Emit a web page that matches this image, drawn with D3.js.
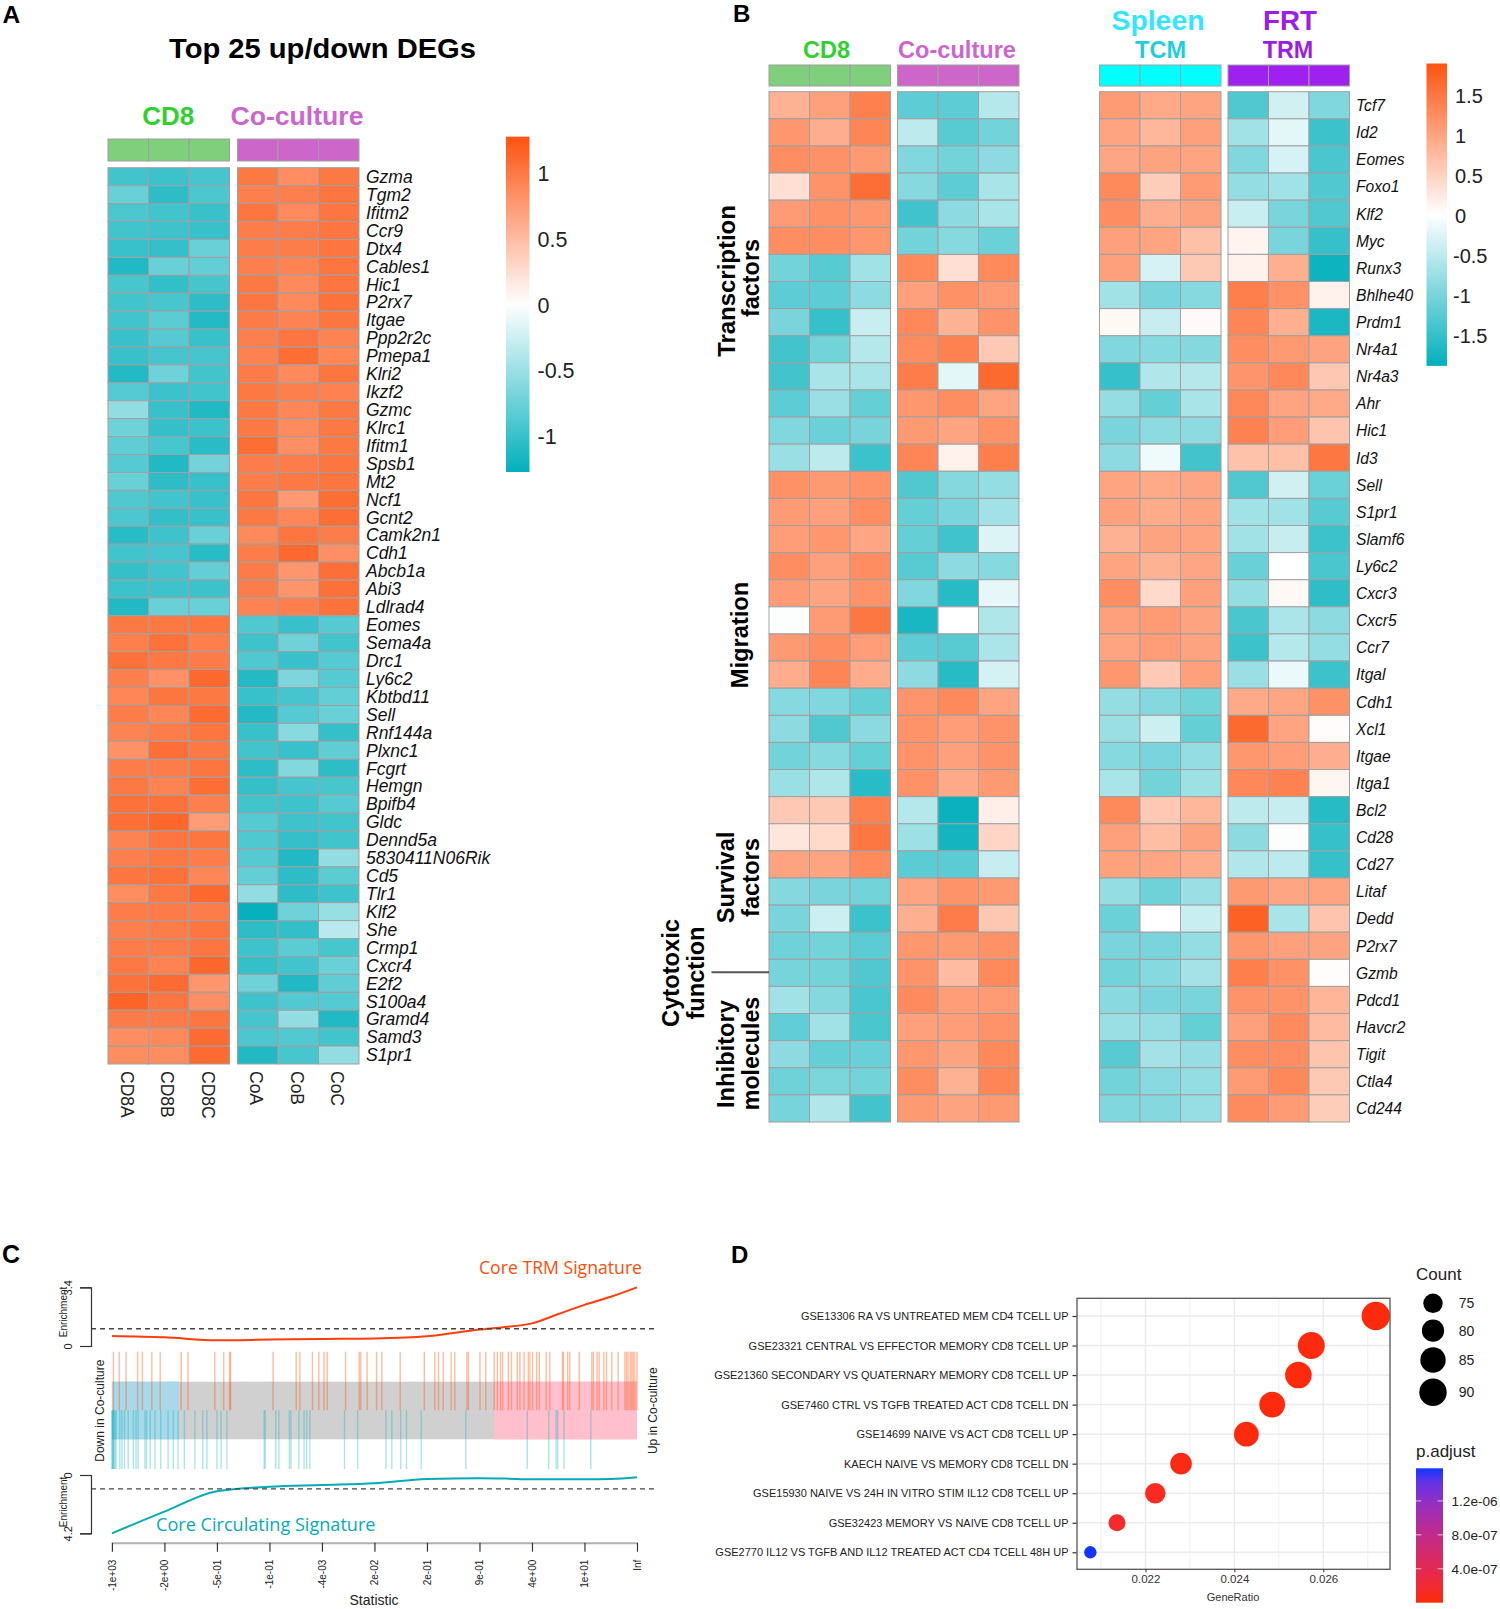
<!DOCTYPE html>
<html><head><meta charset="utf-8">
<script src="https://cdn.jsdelivr.net/npm/d3@7"></script>
<style>html,body{margin:0;padding:0;background:#fff}svg{display:block}text{font-family:"Liberation Sans",Arial,sans-serif}</style>
</head><body><svg id="c" width="1500" height="1609"></svg>
<script>
// ---------- Panel A data ----------
const genesA=["Gzma","Tgm2","Ifitm2","Ccr9","Dtx4","Cables1","Hic1","P2rx7","Itgae","Ppp2r2c","Pmepa1","Klri2","Ikzf2","Gzmc","Klrc1","Ifitm1","Spsb1","Mt2","Ncf1","Gcnt2","Camk2n1","Cdh1","Abcb1a","Abi3","Ldlrad4","Eomes","Sema4a","Drc1","Ly6c2","Kbtbd11","Sell","Rnf144a","Plxnc1","Fcgrt","Hemgn","Bpifb4","Gldc","Dennd5a","5830411N06Rik","Cd5","Tlr1","Klf2","She","Crmp1","Cxcr4","E2f2","S100a4","Gramd4","Samd3","S1pr1"];
const samplesA=["CD8A","CD8B","CD8C","CoA","CoB","CoC"];
const valuesA=[
[-.95,-.98,-.93,1.0,.84,1.0],[-.75,-1.05,-.9,.95,.95,1.02],[-.9,-.95,-1.0,1.03,.87,1.02],[-.95,-.97,-1.0,.97,.97,1.02],[-1.0,-1.02,-.75,.97,.97,1.02],
[-1.12,-.75,-.78,.95,.92,1.03],[-.92,-1.03,-.93,1.0,.88,1.02],[-.95,-.92,-1.05,1.02,.88,1.05],[-.95,-.82,-1.1,.98,.92,1.03],[-1.0,-.85,-1.0,.95,1.02,.92],
[-1.0,-.93,-.93,.93,1.08,.9],[-1.1,-.72,-.95,.98,.88,1.03],[-.85,-.98,-.95,1.0,.95,.93],[-.55,-1.0,-1.12,1.0,.9,1.0],[-.72,-1.02,-.98,1.0,.86,1.0],
[-.8,-.92,-1.07,1.08,.83,1.0],[-.85,-1.12,-.7,.97,.97,1.03],[-.75,-1.05,-1.0,.97,1.0,1.03],[-.88,-.95,-1.0,1.03,.76,1.08],[-.9,-1.03,-1.0,1.0,.9,1.08],
[-1.08,-.97,-.75,.88,1.03,.97],[-.95,-.93,-1.08,.97,1.12,.83],[-1.02,-.95,-.78,.98,.78,1.07],[-.98,-.97,-.98,.97,.8,1.06],[-1.12,-.75,-.75,.92,.95,1.05],
[1.0,1.0,1.03,-.88,-1.0,-.85],[.96,1.05,.96,-.97,-.72,-.95],[1.05,1.0,.98,-.88,-1.0,-.85],[.95,.82,1.12,-1.1,-.65,-.85],[.9,1.03,1.0,-1.0,-.93,-.78],
[.97,.9,1.1,-1.1,-.85,-.75],[.92,.97,1.03,-1.0,-.6,-1.02],[.82,1.07,1.0,-.95,-1.0,-.8],[.97,.97,1.03,-1.05,-.62,-1.05],[1.0,.92,1.08,-1.02,-.93,-.92],
[1.05,1.05,.95,-.95,-.97,-.85],[1.07,1.13,.74,-.85,-.97,-.95],[.92,1.02,1.03,-.88,-1.02,-.95],[.95,1.0,.97,-.85,-1.12,-.55],[1.03,1.05,.9,-.78,-1.05,-.82],
[.85,1.0,1.12,-.55,-1.05,-.97],[.97,.98,.97,-1.25,-.72,-.52],[.95,.97,1.03,-1.05,-1.03,-.35],[.97,.97,1.02,-.97,-.82,-.92],[1.0,.92,1.13,-1.02,-.95,-.75],
[1.05,1.1,.78,-.72,-1.12,-.8],[1.15,1.02,.83,-.97,-.87,-.85],[.98,.98,1.03,-.93,-.55,-1.12],[.84,.88,1.1,-.9,-.87,-.95],[.85,.85,1.1,-1.12,-.92,-.55]];
const legendTicksA=[1,.5,0,-.5,-1];
// ---------- Panel B data ----------
const genesB=["Tcf7","Id2","Eomes","Foxo1","Klf2","Myc","Runx3","Bhlhe40","Prdm1","Nr4a1","Nr4a3","Ahr","Hic1","Id3","Sell","S1pr1","Slamf6","Ly6c2","Cxcr3","Cxcr5","Ccr7","Itgal","Cdh1","Xcl1","Itgae","Itga1","Bcl2","Cd28","Cd27","Litaf","Dedd","P2rx7","Gzmb","Pdcd1","Havcr2","Tigit","Ctla4","Cd244"];
const valuesB=[
[.85,1.05,1.4,-1.2,-1.2,-.55,1.1,.95,1.0,-1.3,-.35,-.95],
[1.15,.9,1.35,-.5,-1.25,-1.05,1.0,.8,1.05,-.7,-.2,-1.45],
[1.25,1.22,1.12,-.95,-1.05,-.85,.98,1.02,1.0,-.95,-.3,-1.35],
[.35,1.2,1.6,-.9,-1.2,-.65,1.3,.55,1.1,-.8,-.7,-1.3],
[1.1,1.22,1.15,-1.42,-.85,-.65,1.25,.9,1.02,-.4,-1.0,-1.3],
[1.25,1.25,1.15,-1.05,-.9,-1.1,1.05,1.0,.7,.12,-1.0,-1.5],
[-1.05,-1.25,-.7,1.3,.35,1.3,1.05,-.3,.6,.15,.88,-1.8],
[-1.2,-1.2,-.85,1.05,1.22,1.1,-.7,-1.0,-.9,1.42,1.22,.14],
[-1.0,-1.5,-.4,1.32,.85,1.2,.07,-.42,.05,1.35,.88,-1.7],
[-1.4,-1.05,-.55,1.27,1.38,.6,-.95,-.9,-.92,1.25,1.12,1.02],
[-1.4,-.65,-.65,1.45,-.2,1.65,-1.5,-.58,-.55,1.18,1.32,.62],
[-1.2,-.75,-1.15,1.15,1.25,1.0,-.8,-1.15,-.65,1.32,1.0,.95],
[-.95,-1.1,-1.02,1.12,1.0,1.22,-1.0,-.85,-.85,1.38,1.08,.65],
[-.75,-.5,-1.45,1.35,.15,1.42,-.85,-.12,-1.4,.68,.7,1.5],
[1.22,1.12,1.2,-1.3,-.92,-.8,1.0,.95,.98,-1.3,-.35,-1.1],
[1.1,1.05,1.25,-1.15,-1.0,-.7,1.05,.93,1.0,-.7,-.7,-1.25],
[1.08,1.15,.98,-1.15,-1.42,-.25,.85,1.02,1.0,-.7,-.42,-1.45],
[1.25,1.05,1.25,-1.25,-.85,-.9,1.0,.85,.98,-1.12,0,-1.35],
[1.1,1.0,1.2,-.95,-1.62,-.18,1.25,.42,1.05,-.8,.08,-1.55],
[-.02,1.1,1.5,-1.72,0,-.6,1.05,1.1,1.02,-1.35,-.62,-.85],
[1.12,1.25,1.08,-1.2,-1.25,-.62,1.0,1.08,1.02,-1.45,-.55,-.8],
[.92,1.35,.92,-.85,-1.62,-.32,1.15,.58,1.05,-.75,-.15,-1.45],
[-.9,-.95,-1.15,1.18,1.3,1.0,-.8,-.92,-1.05,.95,.98,1.22],
[-.85,-1.3,-.87,1.2,1.08,1.2,-.75,-.38,-1.15,1.65,1.0,.03],
[-1.05,-.9,-1.15,1.2,1.05,1.2,-.9,-1.0,-.8,1.15,1.08,.9],
[-.75,-.6,-1.6,1.22,.95,1.12,-.65,-1.05,-.72,1.32,1.38,.1],
[.6,.6,1.4,-.55,-1.82,.18,1.3,.6,.8,-.5,-.42,-1.62],
[.28,.42,1.5,-.72,-1.75,.45,1.05,.72,1.02,-.85,-.02,-1.5],
[1.02,1.0,1.28,-1.22,-1.22,-.42,1.03,.98,.92,-.58,-.5,-1.5],
[-.92,-1.0,-1.05,1.0,1.2,1.12,-.8,-1.08,-.75,1.12,.98,1.0],
[-1.0,-.38,-1.45,.88,1.45,.62,-1.1,0,-.4,1.75,-.65,.65],
[-1.08,-1.05,-1.22,1.15,1.12,1.22,-1.0,-1.0,-.8,1.15,1.05,1.02],
[-1.02,-1.05,-1.3,1.2,.75,1.3,-1.05,-.9,-.68,1.42,1.22,.02],
[-.7,-.92,-1.35,1.28,1.08,1.1,-.88,-1.0,-1.0,1.2,1.2,.82],
[-1.18,-.7,-1.35,1.05,1.08,1.2,-.75,-.78,-1.15,1.05,1.28,.75],
[-.85,-1.15,-1.12,1.15,1.02,1.3,-1.25,-.68,-.78,1.25,1.25,.65],
[-1.08,-.98,-1.05,1.25,.85,1.35,-1.05,-.88,-.8,1.1,1.32,.6],
[-1.02,-.58,-1.4,1.12,1.02,1.12,-.95,-.92,-.78,1.28,1.1,.55]];
const legendTicksB=[1.5,1,.5,0,-.5,-1,-1.5];
// ---------- Panel C data ----------
const statTicks=["-1e+03","-2e+00","-5e-01","-1e-01","-4e-03","2e-02","2e-01","9e-01","4e+00","1e+01","Inf"];
const curveRank=[0,1,2,3,4,5,6,7,7.5,8,8.5,9,9.5,10];
const upEnrich=[.58,.50,.33,.37,.41,.44,.56,.95,1.1,1.31,1.85,2.38,2.85,3.4];
const downEnrich=[4.2,2.64,1.17,.84,.72,.6,.29,.24,.26,.31,.31,.31,.29,.17];
const upRanks=[.03,.14,.27,.49,.58,.76,.92,1.32,1.45,1.96,2.13,2.24,2.26,3.07,3.51,3.58,3.82,3.94,4.04,4.10,4.45,4.71,4.74,4.86,5.04,5.14,5.49,5.95,6.15,6.22,6.31,6.46,6.53,6.76,6.79,7.01,7.12,7.28,7.34,7.40,7.44,7.55,7.61,7.72,7.77,7.85,7.93,7.96,8.01,8.09,8.14,8.27,8.34,8.58,8.60,8.68,8.72,8.90,9.14,9.17,9.24,9.28,9.37,9.42,9.52,9.64,9.77,9.80,9.83,9.87,9.90,9.93,9.96,10];
const downRanks=[0,.01,.02,.03,.04,.06,.08,.15,.19,.24,.31,.41,.46,.50,.63,.66,.73,.82,.93,1.07,1.17,1.26,1.38,1.58,1.73,1.81,2.0,2.08,2.19,2.90,2.92,3.12,3.18,3.38,3.41,3.56,3.66,3.71,3.77,4.43,4.68,5.22,5.33,5.50,5.61,5.89,6.74,7.91,8.32,8.46,8.49,8.61,9.12];
// ---------- Panel D data ----------
const termsD=["GSE13306 RA VS UNTREATED MEM CD4 TCELL UP","GSE23321 CENTRAL VS EFFECTOR MEMORY CD8 TCELL UP","GSE21360 SECONDARY VS QUATERNARY MEMORY CD8 TCELL UP","GSE7460 CTRL VS TGFB TREATED ACT CD8 TCELL DN","GSE14699 NAIVE VS ACT CD8 TCELL UP","KAECH NAIVE VS MEMORY CD8 TCELL DN","GSE15930 NAIVE VS 24H IN VITRO STIM IL12 CD8 TCELL UP","GSE32423 MEMORY VS NAIVE CD8 TCELL UP","GSE2770 IL12 VS TGFB AND IL12 TREATED ACT CD4 TCELL 48H UP"];
const geneRatio=[.02718,.02573,.02544,.02485,.02427,.0228,.02222,.02136,.02076];
const countD=[94,89,88,86,84,79,77,74,72];
const padjD=[2e-8,2e-8,2e-8,2e-8,2e-8,4e-8,8e-8,1.6e-7,1.585e-6];
const sizeLegend=[75,80,85,90];
const padjTicks=[1.2e-6,8e-7,4e-7];

const svg=d3.select("#c");
const GREY="#a0a0a0";
function label(t,x,y,o={}){
  const e=svg.append("text").text(t)
    .attr("font-size",o.size||12).attr("fill",o.fill||"#111")
    .attr("font-weight",o.bold?"bold":null).attr("font-style",o.italic?"italic":null)
    .attr("text-anchor",o.anchor||"start");
  if(o.family)e.style("font-family",o.family);
  if(o.rot!=null)e.attr("transform",`translate(${x},${y}) rotate(${o.rot})`);else e.attr("x",x).attr("y",y);
  if(o.len)e.attr("textLength",o.len).attr("lengthAdjust","spacingAndGlyphs");
  return e;
}
function heat(values,x,yBand,color,cols){
  const g=svg.append("g");
  values.forEach((row,i)=>{
    g.selectAll(null).data(cols.map(c=>({c,v:row[c]}))).join("rect")
     .attr("x",d=>x(d.c)).attr("y",yBand(i)).attr("width",x.bandwidth()).attr("height",yBand.bandwidth())
     .attr("fill",d=>color(d.v)).attr("stroke",GREY).attr("stroke-width",1);
  });
}
function annot(x,y0,y1,col,cols){
  svg.append("g").selectAll("rect").data(cols).join("rect")
    .attr("x",d=>x(d)).attr("y",y0).attr("width",x.bandwidth()).attr("height",y1-y0)
    .attr("fill",col).attr("stroke",GREY).attr("stroke-width",1);
}
function colorLegend(id,color,lo,hi,y,xl,w,ticks,txFn,size){
  const grad=svg.append("defs").append("linearGradient").attr("id",id).attr("x1",0).attr("x2",0).attr("y1",0).attr("y2",1);
  [hi,0,lo].forEach((v,i)=>grad.append("stop").attr("offset",i/2).attr("stop-color",color(v)));
  svg.append("rect").attr("x",xl).attr("y",y(hi)).attr("width",w).attr("height",y(lo)-y(hi)).attr("fill",`url(#${id})`);
  ticks.forEach(t=>label(String(t),txFn(t),y(t)+size*.36,{size,fill:"#222"}));
}
const PAL=["#00AFBB","#ffffff","#FD5310"];
// ---------- Panel A ----------
label("A",2.5,22.5,{size:24.5,bold:true,fill:"#000"});
label("Top 25 up/down DEGs",169,58,{size:27.5,bold:true,fill:"#000",len:307});
label("CD8",168.3,125,{size:26,bold:true,fill:"#2fd12f",anchor:"middle",len:52});
label("Co-culture",297,125,{size:26,bold:true,fill:"#cc66cc",anchor:"middle",len:133});
const colorA=d3.scaleLinear().domain([-1.28,0,1.28]).range(PAL);
const yA=d3.scaleBand().domain(d3.range(genesA.length)).range([167.7,1064]);
const xA1=d3.scaleBand().domain([0,1,2]).range([108,229.5]);
const xA2=d3.scaleBand().domain([3,4,5]).range([237.5,359]);
annot(xA1,139,161,"#7fcf7c",[0,1,2]);annot(xA2,139,161,"#cc66c8",[3,4,5]);
heat(valuesA,xA1,yA,colorA,[0,1,2]);heat(valuesA,xA2,yA,colorA,[3,4,5]);
genesA.forEach((g,i)=>label(g,366,yA(i)+yA.bandwidth()/2+6.3,{size:17.5,italic:true}));
samplesA.forEach((s,i)=>{const x=i<3?xA1:xA2;label(s,x(i)+x.bandwidth()/2-7.5,1071,{size:17.5,rot:90,fill:"#222"});});
const legA=d3.scaleLinear().domain([0,1]).range([305,173.5]);
colorLegend("gA",colorA,-1.27,1.28,legA,506,23.5,legendTicksA,()=>537.5,21.5);
// ---------- Panel B ----------
label("B",733,22,{size:24,bold:true,fill:"#000"});
const colorB=d3.scaleLinear().domain([-1.9,0,1.9]).range(PAL);
const yB=d3.scaleBand().domain(d3.range(genesB.length)).range([91.7,1122]);
const xB=[[0,769,890.5],[3,897.5,1019],[6,1099.5,1221],[9,1228,1349.5]].map(([s,a,b])=>({cols:[s,s+1,s+2],x:d3.scaleBand().domain([s,s+1,s+2]).range([a,b])}));
["#7fcf7c","#cc66c8","#00ffff","#a020f0"].forEach((c,i)=>annot(xB[i].x,65,86,c,xB[i].cols));
xB.forEach(b=>heat(valuesB,b.x,yB,colorB,b.cols));
genesB.forEach((g,i)=>label(g,1356,yB(i)+yB.bandwidth()/2+5.8,{size:15.6,italic:true}));
label("CD8",826.5,57.5,{size:24.5,bold:true,fill:"#2fd12f",anchor:"middle",len:47});
label("Co-culture",957,57.5,{size:24.5,bold:true,fill:"#cc66cc",anchor:"middle",len:118});
label("Spleen",1158,29.5,{size:28,bold:true,fill:"#33e6ff",anchor:"middle",len:93});
label("TCM",1160.5,57.5,{size:24,bold:true,fill:"#1fcfdc",anchor:"middle",len:51});
label("FRT",1290,29.5,{size:28,bold:true,fill:"#9c1de6",anchor:"middle",len:54});
label("TRM",1288,57.5,{size:24,bold:true,fill:"#9c1de6",anchor:"middle",len:50.5});
const legB=d3.scaleLinear().domain([0,1.5]).range([215.5,95.5]);
colorLegend("gB",colorB,-1.88,1.9,legB,1426.5,20.5,legendTicksB,t=>t>=0?1455:1453,20);
const side=[["Transcription",735,281,151.7],["factors",759,278,78],["Migration",748,635,106.6],["Survival",734,877.5,91.6],["factors",759,877.5,79],["Cytotoxic",679,973,108],["function",704,973,93],["Inhibitory",734,1054,108],["molecules",759.3,1053.5,113.5]];
side.forEach(([t,x,y,l])=>label(t,x,y,{size:23,bold:true,fill:"#000",rot:-90,anchor:"middle",len:l}));
svg.append("line").attr("x1",711.5).attr("x2",769).attr("y1",972.3).attr("y2",972.3).attr("stroke","#555").attr("stroke-width",2);
// ---------- Panel C ----------
label("C",2,1263,{size:25,bold:true,fill:"#000"});
const xC=d3.scaleLinear().domain([0,10]).range([111.9,637]);
const yUp=d3.scaleLinear().domain([0,3.4]).range([1346,1287.3]);
const yDn=d3.scaleLinear().domain([0,4.2]).range([1475,1533.3]);
const bandTop=1381.7,bandMid=1410.3,bandBot=1439.3;
svg.append("rect").attr("x",xC(0)).attr("y",bandTop).attr("width",xC(10)-xC(0)).attr("height",bandBot-bandTop).attr("fill","#d0d0d0");
svg.append("rect").attr("x",xC(0)).attr("y",bandTop).attr("width",xC(1.28)-xC(0)).attr("height",bandBot-bandTop).attr("fill","#a9d8e8");
svg.append("rect").attr("x",xC(7.28)).attr("y",bandTop).attr("width",xC(10)-xC(7.28)).attr("height",bandBot-bandTop).attr("fill","#ffbfcc");
svg.append("g").selectAll("line").data(upRanks).join("line").attr("x1",d=>xC(d)).attr("x2",d=>xC(d)).attr("y1",1351.7).attr("y2",bandMid).attr("stroke","#FC4E07").attr("stroke-width",1.4).attr("stroke-opacity",.38);
svg.append("g").selectAll("line").data(downRanks).join("line").attr("x1",d=>xC(d)).attr("x2",d=>xC(d)).attr("y1",bandMid).attr("y2",1469).attr("stroke","#00AFBB").attr("stroke-width",1.4).attr("stroke-opacity",.33);
const lineUp=d3.line().x((d,i)=>xC(curveRank[i])).y(d=>yUp(d)).curve(d3.curveMonotoneX);
const lineDn=d3.line().x((d,i)=>xC(curveRank[i])).y(d=>yDn(d)).curve(d3.curveMonotoneX);
svg.append("path").attr("d",lineUp(upEnrich)).attr("fill","none").attr("stroke","#ff3d0a").attr("stroke-width",2);
svg.append("path").attr("d",lineDn(downEnrich)).attr("fill","none").attr("stroke","#07aab6").attr("stroke-width",2);
[yUp(1),yDn(1)].forEach(y=>svg.append("line").attr("x1",91).attr("x2",656).attr("y1",y).attr("y2",y).attr("stroke","#444").attr("stroke-width",1.4).attr("stroke-dasharray","5,4"));
[[yUp,[0,3.4]],[yDn,[0,4.2]]].forEach(([sc,tv])=>{
  const g=svg.append("g").attr("transform","translate(91,0)").call(d3.axisLeft(sc).tickValues(tv).tickSize(11).tickFormat(d=>String(d)));
  g.selectAll("path,line").attr("stroke","#333").attr("stroke-width",1.2);
  g.selectAll("text").attr("font-size",11).attr("fill","#222").attr("text-anchor","middle").attr("x",null).attr("dy",null).attr("transform","translate(-19.5,0) rotate(-90)");
});
label("Enrichment",67,1312,{size:10,rot:-90,anchor:"middle",fill:"#222"});
label("Enrichment",67,1502,{size:10,rot:-90,anchor:"middle",fill:"#222"});
label("Down in Co-culture",103.5,1410.7,{size:12,rot:-90,anchor:"middle",fill:"#222"});
label("Up in Co-culture",657,1410.7,{size:12,rot:-90,anchor:"middle",fill:"#222"});
const axC=svg.append("g").attr("transform","translate(0,1542.7)").call(d3.axisBottom(xC).tickValues(d3.range(0,11)).tickSize(9).tickSizeOuter(0).tickFormat(d=>statTicks[d]));
axC.select("path").attr("stroke","#b0b0b0").attr("stroke-width",2);
axC.selectAll("line").attr("stroke","#333").attr("stroke-width",1.2);
axC.selectAll("text").attr("font-size",10).attr("fill","#222").attr("text-anchor","end").attr("y",null).attr("dy",null).attr("transform","translate(3.5,17) rotate(-90)");
label("Statistic",374,1605,{size:14,anchor:"middle",fill:"#222"});
const CF='"Open Sans","Liberation Sans",sans-serif';
label("Core TRM Signature",479,1274,{size:18,fill:"#FC4E07",family:CF,len:163});
label("Core Circulating Signature",156,1531,{size:18,fill:"#07aab6",family:CF,len:219.5});
// ---------- Panel D ----------
label("D",731,1262.5,{size:24,bold:true,fill:"#000"});
const xD=d3.scaleLinear().domain([.02046,.0275]).range([1077,1390]);
const yD=d3.scalePoint().domain(termsD).range([1316,1552.3]);
const panelTop=1298.3,panelBot=1569.3;
const majors=[.022,.024,.026],minors=[.021,.023,.025,.027];
svg.append("g").selectAll("line").data(minors).join("line").attr("x1",d=>xD(d)).attr("x2",d=>xD(d)).attr("y1",panelTop).attr("y2",panelBot).attr("stroke","#f0f0f0").attr("stroke-width",1);
svg.append("g").selectAll("line").data(majors).join("line").attr("x1",d=>xD(d)).attr("x2",d=>xD(d)).attr("y1",panelTop).attr("y2",panelBot).attr("stroke","#ebebeb").attr("stroke-width",1.5);
svg.append("g").selectAll("line").data(termsD).join("line").attr("x1",1077).attr("x2",1390).attr("y1",d=>yD(d)).attr("y2",d=>yD(d)).attr("stroke","#ebebeb").attr("stroke-width",1.5);
const rD=d3.scaleLinear().domain([72,74,75,80,85,90,94]).range([6.2,8.5,9.7,11.1,12.7,13.7,14.2]);
const colD=d3.scaleLinear().domain([0,1.585e-6]).range(["#ff2a05","#1236ff"]).interpolate(d3.interpolateLab);
svg.append("g").selectAll("circle").data(termsD).join("circle").attr("cx",(d,i)=>xD(geneRatio[i])).attr("cy",d=>yD(d)).attr("r",(d,i)=>rD(countD[i])).attr("fill",(d,i)=>colD(padjD[i]));
svg.append("rect").attr("x",1077).attr("y",panelTop).attr("width",313).attr("height",panelBot-panelTop).attr("fill","none").attr("stroke","#555").attr("stroke-width",1.3);
const axDy=svg.append("g").attr("transform","translate(1076.5,0)").call(d3.axisLeft(yD).tickSize(4).tickPadding(4));
axDy.select("path").remove();axDy.selectAll("line").attr("stroke","#333").attr("stroke-width",1.2);
axDy.selectAll("text").attr("font-size",11).attr("fill","#222");
const axDx=svg.append("g").attr("transform",`translate(0,${panelBot})`).call(d3.axisBottom(xD).tickValues(majors).tickSize(3).tickPadding(3).tickFormat(d3.format(".3f")));
axDx.select("path").remove();axDx.selectAll("line").attr("stroke","#333");
axDx.selectAll("text").attr("font-size",11.5).attr("fill","#333");
label("GeneRatio",1233,1600.5,{size:11,anchor:"middle",fill:"#333"});
label("Count",1416,1280,{size:17,fill:"#222"});
const legY=[1303.3,1330.7,1360,1392.3];
sizeLegend.forEach((c,i)=>{
  svg.append("circle").attr("cx",1433).attr("cy",legY[i]).attr("r",rD(c)).attr("fill","#000");
  label(String(c),1458.7,legY[i]+5,{size:14,fill:"#222"});
});
label("p.adjust",1416,1457,{size:17,fill:"#222"});
const yP=d3.scaleLinear().domain([0,1.585e-6]).range([1602.7,1468.3]);
const gradD=svg.append("defs").append("linearGradient").attr("id","gD").attr("x1",0).attr("x2",0).attr("y1",1).attr("y2",0);
d3.range(0,1.01,.1).forEach(t=>gradD.append("stop").attr("offset",t).attr("stop-color",colD(t*1.585e-6)));
svg.append("rect").attr("x",1416).attr("y",1468.3).attr("width",27).attr("height",134.4).attr("fill","url(#gD)");
padjTicks.forEach(p=>{
  [[1416,1421.4],[1437.6,1443]].forEach(([a,b])=>svg.append("line").attr("x1",a).attr("x2",b).attr("y1",yP(p)).attr("y2",yP(p)).attr("stroke","#fff").attr("stroke-opacity",.7));
  label(d3.format(".1e")(p).replace(/e-(\d)$/,"e-0$1"),1451.5,yP(p)+4.8,{size:13.6,fill:"#222"});
});
</script></body></html>
